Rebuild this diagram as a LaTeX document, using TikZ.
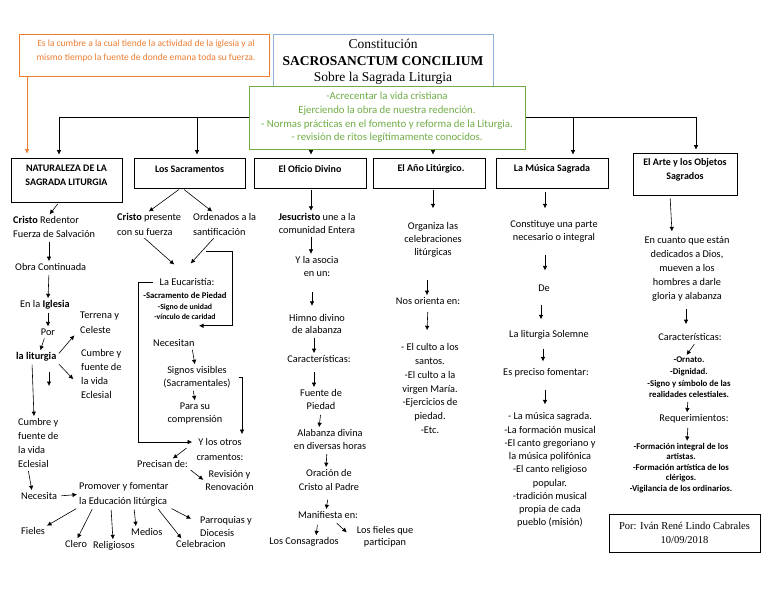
\documentclass[tikz,border=0pt]{standalone}
\usepackage{fontspec}
\setmainfont{Carlito}
\newfontfamily\tnr{Liberation Serif}
\usetikzlibrary{arrows.meta}
\newcommand\fs[2]{\fontsize{#1}{#2}\selectfont}
\definecolor{orng}{RGB}{237,125,49}
\definecolor{grn}{RGB}{112,173,71}
\definecolor{blu}{RGB}{143,179,222}
\begin{document}
\begin{tikzpicture}[x=1pt,y=-1pt,
  t/.style={font=\fs{10.3}{14}, inner sep=1pt, align=center},
  tl/.style={t, align=left, anchor=west},
  hbox/.style={draw, line width=0.7pt, inner sep=0pt},
  htext/.style={font=\fs{10}{13.5}\bfseries, align=center, inner sep=1pt},
  arr/.style={-{Latex[length=4.5pt,width=4.5pt]}, line width=0.6pt, shorten >=1pt, shorten <=2pt},
  ln/.style={line width=0.6pt},
]
\fill[white] (0,0) rectangle (768,594);
\useasboundingbox (0,0) rectangle (768,594);

% heading boxes
\node[hbox, minimum width=111pt, minimum height=44pt] (nat) at (66.5,180) {};
\node[htext] (natT) at (66.5,175.5) {NATURALEZA DE LA\\SAGRADA LITURGIA};
\node[hbox, minimum width=111pt, minimum height=30pt] (sac) at (189.5,173) {};
\node[htext] (sacT) at (189.5,169) {Los Sacramentos};
\node[hbox, minimum width=112pt, minimum height=30pt] (ofi) at (310,173) {};
\node[htext] (ofiT) at (310,169) {El Oficio Divino};
\node[hbox, minimum width=112pt, minimum height=30pt] (ano) at (429,173) {};
\node[htext] (anoT) at (431,169) {El Año Litúrgico.};
\node[hbox, minimum width=112pt, minimum height=30pt] (mus) at (552,173) {};
\node[htext] (musT) at (552,169) {La Música Sagrada};
\node[hbox, minimum width=104pt, minimum height=42pt] (art) at (685,174) {};
\node[htext] (artT) at (685,170) {El Arte y los Objetos\\Sagrados};

% top line and drops
\coordinate (d1) at (59,117);
\coordinate (d2) at (197,117);
\coordinate (d3) at (311,117);
\coordinate (d4) at (433,117);
\coordinate (d5) at (573,117);
\coordinate (d6) at (696,117);
\draw[ln] (d1) -- (d6);
\draw[arr, shorten <=0pt, shorten >=3pt] (d1) -- (d1 |- nat.north);
\draw[arr, shorten <=0pt, shorten >=3pt] (d2) -- (d2 |- sac.north);
\draw[arr, shorten <=0pt, shorten >=3pt] (d3) -- (d3 |- ofi.north);
\draw[arr, shorten <=0pt, shorten >=3pt] (d4) -- (d4 |- ano.north);
\draw[arr, shorten <=0pt, shorten >=3pt] (d5) -- (d5 |- mus.north);
\draw[arr, shorten <=0pt, shorten >=3pt] (d6) -- (d6 |- art.north);

% orange note
\node[draw=orng, line width=0.8pt, minimum width=250pt, minimum height=42pt, inner sep=0pt] (orange) at (144,55) {};
\node[text=orng, font=\fs{9.5}{14}, align=center, inner sep=1pt] (orangeT) at (146,51) {Es la cumbre a la cual tiende la actividad de la iglesia y al\\mismo tiempo la fuente de donde emana toda su fuerza.};
\draw[arr, orng, shorten <=0pt, shorten >=4pt] ([xshift=-117pt]orange.south) -- ([xshift=-39.5pt]nat.north);

% title
\node[draw=blu, line width=0.8pt, minimum width=220pt, minimum height=56pt, font=\tnr\fs{13.5}{16.5}, align=center, inner sep=1pt] (title) at (383,62) {Constitución\\\textbf{SACROSANCTUM CONCILIUM}\\Sobre la Sagrada Liturgia};
% goals
\node[draw=grn, line width=0.8pt, fill=white, text=grn, font=\fs{10.8}{13.7}, align=center, minimum width=276pt, minimum height=63pt, inner sep=1pt] (goals) at (387,117.5) {-Acrecentar la vida cristiana\\Ejerciendo la obra de nuestra redención.\\- Normas prácticas en el fomento y reforma de la Liturgia.\\- revisión de ritos legítimamente conocidos.};

% column 1
\node[tl] (cr) at (12,227) {\textbf{Cristo} Redentor\\Fuerza de Salvación};
\node[tl] (oc) at (14,267) {Obra Continuada};
\node[tl] (ei) at (19,305) {En la \textbf{Iglesia}};
\node[t] (por) at (48,332) {Por};
\node[tl] (lit) at (15,357) {\textbf{la liturgia}};
\node[tl, font=\fs{10.3}{15}] (tc) at (79,322.5) {Terrena y\\Celeste};
\node[tl] (cf1) at (80,374) {Cumbre y\\fuente de\\la vida\\Eclesial};
\coordinate (stub) at (49,387);
\node[tl] (cf2) at (17,443) {Cumbre y\\fuente de\\la vida\\Eclesial};
\node[tl] (nec) at (20,496) {Necesita};
\node[tl, font=\fs{10.3}{15}] (prom) at (78,494.5) {Promover y fomentar\\la Educación litúrgica};
\node[tl] (fieles) at (20,531) {Fieles};
\node[tl] (clero) at (64,544) {Clero};
\node[tl] (relig) at (92,546) {Religiosos};
\node[tl] (medios) at (130,532) {Medios};
\node[tl] (celeb) at (175,544) {Celebracion};
\node[tl, font=\fs{10.3}{13}] (parr) at (199,526.5) {Parroquias y\\Diocesis};

\draw[arr] ([xshift=-7.5pt]nat.south) -- ([xshift=37pt]cr.north west);
\draw[arr, shorten <=3pt] ([xshift=37pt]cr.south west) -- ([xshift=35pt]oc.north west);
\draw[arr, shorten <=3pt] ([xshift=35pt]oc.south west) -- ([xshift=29pt]ei.north west);
\draw[arr] ([xshift=29pt]ei.south west) -- (por.north);
\draw[arr] ([xshift=-3pt]por.south) -- ([xshift=25pt]lit.north west);
\draw[arr] ([yshift=2pt]lit.east) -- ([xshift=-4pt]tc.south west);
\draw[arr] (lit.south east) -- ([xshift=-6pt,yshift=-6pt]cf1.west);
\draw[arr, shorten <=9pt] ([xshift=34pt]lit.south west) -- (stub);
\draw[arr] ([xshift=17pt]lit.south west) -- ([xshift=17pt]cf2.north west);
\draw[arr] ([xshift=11pt]cf2.south west) -- ([xshift=12pt]nec.north west);
\draw[arr, shorten <=3pt] (nec.east) -- (prom.west);
\draw[arr] (prom.south west) -- (fieles.north east);
\draw[arr] ([xshift=15pt]prom.south west) -- ([xshift=13pt]clero.north west);
\draw[arr] ([xshift=33pt]prom.south west) -- ([xshift=21pt]relig.north west);
\draw[arr] ([xshift=56pt]prom.south west) -- ([xshift=6pt]medios.north west);
\draw[arr] ([xshift=79pt]prom.south west) -- ([xshift=7pt]celeb.north west);
\draw[arr] (prom.south east) -- ([xshift=-7pt,yshift=-4pt]parr.north west);

% column 2
\node[tl, font=\fs{10.3}{15}] (cp) at (116,224.5) {\textbf{Cristo} presente\\con su fuerza};
\node[tl, font=\fs{10.3}{15}] (ord) at (192,224.5) {Ordenados a la\\santificación};
\node[t] (euc) at (187,282) {La Eucaristía:};
\node[t, font=\bfseries\fs{7.8}{10.5}] (eucl) at (185,306) {{\fs{8.7}{10.5}-Sacramento de Piedad}\\-Signo de unidad\\-vínculo de caridad};
\node[tl] (necn) at (152,343) {Necesitan};
\node[t, font=\fs{10.3}{12.5}] (sig) at (197,377) {Signos visibles\\(Sacramentales)};
\node[t, font=\fs{10.3}{13.5}] (para) at (195,413.5) {Para su\\comprensión};
\node[t] (otros1) at (220,442) {Y los otros};
\node[t] (otros2) at (220,457) {cramentos:};
\node[tl] (prec) at (136,464) {Precisan de:};
\node[t, font=\fs{10.3}{13}] (rev) at (229.5,480.5) {Revisión y\\Renovación};

\draw[arr] ([xshift=-9pt]sac.south) -- ([xshift=32pt]cp.north west);
\draw[arr] ([xshift=-7pt]sac.south) -- ([xshift=21pt]ord.north west);
\draw[arr] ([xshift=27pt]cp.south west) -- ([xshift=-12pt,yshift=12pt]euc.north);
\draw[arr] ([xshift=23pt]ord.south west) -- ([xshift=3pt,yshift=13pt]euc.north);
\draw[arr, shorten <=0pt] ([xshift=14pt,yshift=-14pt]ord.south west) -- ++(26,0) |- ([xshift=13pt,yshift=-5pt]eucl.south);
\draw[arr, shorten <=0pt] ([xshift=-6pt]euc.west) -- ++(-14,0) |- ([xshift=-4pt]otros1.west);
\draw[arr, shorten <=0pt] ([xshift=7pt]sig.east) -| ([xshift=22pt,yshift=2pt]otros1.north);
\draw[arr] ([xshift=40pt]necn.south west) -- ([xshift=-2pt]sig.north);
\draw[arr] ([xshift=-4pt]sig.south) -- (para.north);
\draw[arr] ([xshift=-9pt]otros1.south west) -- ([xshift=36pt]prec.north west);
\draw[arr] (prec.south east) -- (rev.west);

% column 3
\node[t, font=\fs{10.3}{13.5}] (jes) at (317,223.5) {\textbf{Jesucristo} une a la\\comunidad Entera};
\node[t, font=\fs{10.3}{13.5}] (asoc) at (317,266.5) {Y la asocia\\en un:};
\node[t, font=\fs{10.3}{12.5}] (himno) at (317,324) {Himno divino\\de alabanza};
\node[t] (car3) at (319,359) {Características:};
\node[t, font=\fs{10.3}{13}] (fuente) at (321,399.5) {Fuente de\\Piedad};
\node[t, font=\fs{10.3}{13}] (alab) at (330,439.5) {Alabanza divina\\en diversas horas};
\node[t, font=\fs{10.3}{14}] (orac) at (329,480) {Oración de\\Cristo al Padre};
\node[t] (manif) at (328,515) {Manifiesta en:};
\node[t] (cons) at (304,542) {Los Consagrados};
\node[t, font=\fs{10.3}{12}] (fq) at (385,537) {Los fieles que\\participan};

\draw[arr] ([xshift=1pt]ofi.south) -- ([xshift=-6pt]jes.north);
\draw[arr] ([xshift=-6pt]jes.south) -- ([xshift=-6pt]asoc.north);
\draw[arr, shorten <=14pt] ([xshift=-5pt]asoc.south) -- ([xshift=-5pt,yshift=6pt]himno.north);
\draw[arr, shorten <=3pt] ([xshift=-3pt]himno.south) -- ([xshift=-5pt]car3.north);
\draw[arr, shorten <=8pt] ([xshift=-5pt]car3.south) -- ([xshift=-7pt]fuente.north);
\draw[arr, shorten <=4pt] (fuente.south) -- ([xshift=-11pt]alab.north);
\draw[arr, shorten <=3pt] ([xshift=-3pt]alab.south) -- ([xshift=-3pt]orac.north);
\draw[arr, shorten <=8pt] (orac.south) -- ([xshift=-2pt]manif.north);
\draw[arr, shorten <=5pt] ([xshift=-10pt]manif.south) -- ([xshift=12pt]cons.north);
\draw[arr, shorten <=5pt] ([xshift=5pt]manif.south) -- ([xshift=-8pt,yshift=4pt]fq.west);

% column 4
\node[t, font=\fs{10.3}{13}] (org) at (433,240) {Organiza las\\celebraciones\\litúrgicas};
\node[t] (nos) at (428,301) {Nos orienta en:};
\node[t, font=\fs{10.3}{13.8}] (list4) at (430,388.5) {- El culto a los\\santos.\\-El culto a la\\virgen María.\\-Ejercicios de\\piedad.\\-Etc.};

\draw[arr] ([xshift=4pt]ano.south) -- ([yshift=12pt]org.north);
\draw[arr, shorten <=21pt] ([xshift=-6pt]org.south) -- ([xshift=-1pt]nos.north);
\draw[arr, shorten <=6pt] (nos.south) -- ([xshift=-3pt,yshift=11pt]list4.north);

% column 5
\node[t, font=\fs{10.3}{13}] (c5) at (554,231.5) {Constituye una parte\\necesario o integral};
\node[t] (de) at (544,288) {De};
\node[t] (sol) at (549,335) {La liturgia Solemne};
\node[t] (p5) at (546,373) {Es preciso fomentar:};
\node[t, font=\fs{10.3}{13.25}] (list5) at (550,470) {- La música sagrada.\\-La formación musical\\-El canto gregoriano y\\la música polifónica\\-El canto religioso\\popular.\\-tradición musical\\propia de cada\\pueblo (misión)};

\draw[arr, shorten <=4pt] ([xshift=-7pt]mus.south) -- ([xshift=-9pt,yshift=10pt]c5.north);
\draw[arr, shorten <=11pt] ([xshift=-9pt]c5.south) -- ([xshift=1pt,yshift=12pt]de.north);
\draw[arr, shorten <=12pt] ([xshift=-3pt]de.south) -- ([xshift=-8pt,yshift=9pt]sol.north);
\draw[arr, shorten <=8pt] ([xshift=-6pt]sol.south) -- ([xshift=-3pt,yshift=5pt]p5.north);
\draw[arr, shorten <=11pt] ([xshift=-1pt]p5.south) -- ([xshift=-5pt,yshift=6pt]list5.north);

% column 6
\node[t, font=\fs{10.3}{14}] (en) at (687,269) {En cuanto que están\\dedicados a Dios,\\mueven a los\\hombres a darle\\gloria y alabanza};
\node[t] (car6) at (690,337) {Características:};
\node[t, font=\bfseries\fs{8.8}{11.7}] (orn) at (689,377.5) {-Ornato.\\-Dignidad.\\-Signo y símbolo de las\\realidades celestiales.};
\node[t] (req) at (694,419) {Requerimientos:};
\node[t, font=\bfseries\fs{8.8}{10.5}] (form) at (681,468) {-Formación integral de los\\artistas.\\-Formación artística de los\\clérigos.\\-Vigilancia de los ordinarios.};
\node[draw, line width=0.6pt, minimum width=151pt, minimum height=38pt, font=\tnr\fs{10.5}{14}, align=center, inner sep=1pt] (author) at (684.5,533) {Por: Iván René Lindo Cabrales\\10/09/2018};

\draw[arr, shorten <=3pt] ([xshift=-15pt]art.south) -- ([xshift=-15pt,yshift=3pt]en.north);
\draw[arr, shorten <=6pt] ([xshift=-1pt]en.south) -- ([xshift=-4pt,yshift=7pt]car6.north);
\draw[arr, shorten <=3pt] ([xshift=6pt]car6.south) -- ([xshift=-3pt]orn.north);
\draw[arr, shorten <=3pt] ([xshift=-1pt]orn.south) -- ([xshift=-7pt]req.north);
\draw[arr, shorten <=3pt] ([xshift=-6pt]req.south) -- ([xshift=6pt]form.north);
\end{tikzpicture}
\end{document}
